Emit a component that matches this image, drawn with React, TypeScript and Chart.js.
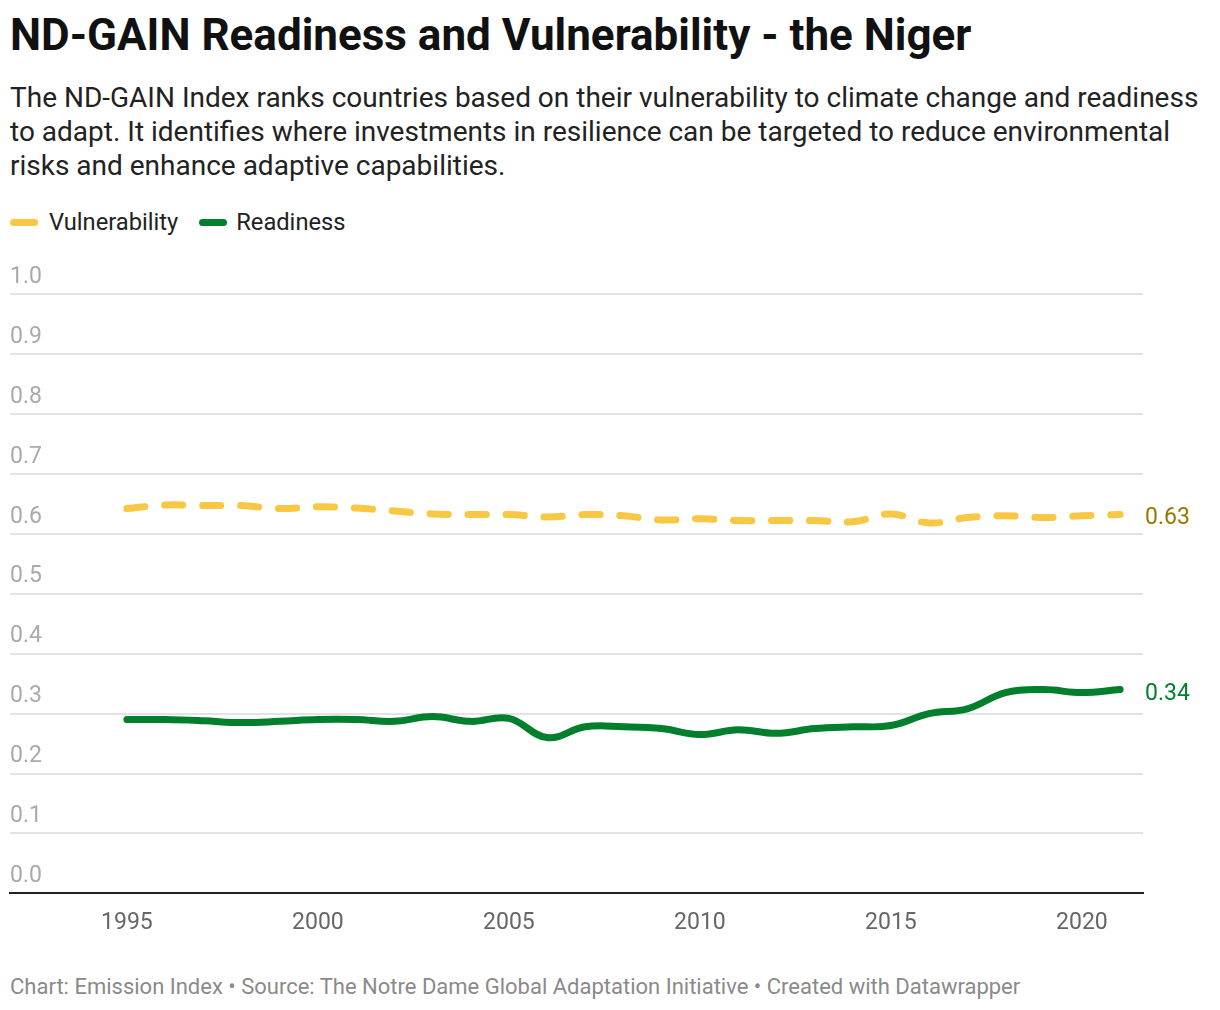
import React, { useEffect, useRef } from "react";
import { Chart, registerables } from "chart.js";

Chart.register(...registerables);

const years = [1995, 1996, 1997, 1998, 1999, 2000, 2001, 2002, 2003, 2004, 2005, 2006, 2007, 2008, 2009, 2010, 2011, 2012, 2013, 2014, 2015, 2016, 2017, 2018, 2019, 2020, 2021];
const vulnerability = [0.642, 0.648, 0.647, 0.647, 0.642, 0.645, 0.643, 0.638, 0.633, 0.632, 0.632, 0.628, 0.632, 0.630, 0.623, 0.625, 0.622, 0.622, 0.622, 0.620, 0.633, 0.618, 0.627, 0.630, 0.627, 0.630, 0.632];
const readiness = [0.290, 0.290, 0.288, 0.285, 0.287, 0.290, 0.290, 0.287, 0.295, 0.287, 0.292, 0.260, 0.278, 0.278, 0.275, 0.265, 0.273, 0.267, 0.275, 0.278, 0.280, 0.300, 0.308, 0.335, 0.340, 0.335, 0.340];
const xTickYears = [1995, 2000, 2005, 2010, 2015, 2020];
const endLabels = ["0.63", "0.34"];

const YELLOW = "#f8c845";
const GREEN = "#017f2d";
const FONT = "Roboto, 'Noto Sans', sans-serif";

const endLabelPlugin = {
  id: "endLabels",
  afterDatasetsDraw(chart: any) {
    const ctx = chart.ctx;
    const colors = ["#967800", GREEN];
    const offsets = [4, 5];
    chart.data.datasets.forEach((ds: any, i: number) => {
      const meta = chart.getDatasetMeta(i);
      const pt = meta.data[meta.data.length - 1];
      if (!pt) return;
      ctx.save();
      ctx.font = `23px ${FONT}`;
      ctx.fillStyle = colors[i];
      ctx.textAlign = "left";
      ctx.textBaseline = "middle";
      ctx.fillText(endLabels[i], chart.chartArea.right + 2, pt.y + offsets[i]);
      ctx.restore();
    });
  },
};

function LineChart() {
  const ref = useRef<HTMLCanvasElement | null>(null);
  useEffect(() => {
    if (!ref.current) return;
    const chart = new Chart(ref.current, {
      type: "line",
      data: {
        labels: years,
        datasets: [
          {
            label: "Vulnerability",
            data: years.map((y, i) => ({ x: y, y: vulnerability[i] })),
            borderColor: YELLOW,
            borderWidth: 7,
            borderDash: [18, 20],
            borderCapStyle: "round",
            pointRadius: 0,
            tension: 0.4,
            fill: false,
          },
          {
            label: "Readiness",
            data: years.map((y, i) => ({ x: y, y: readiness[i] })),
            borderColor: GREEN,
            borderWidth: 7,
            borderCapStyle: "round",
            pointRadius: 0,
            tension: 0.4,
            fill: false,
          },
        ],
      },
      options: {
        animation: false,
        responsive: false,
        maintainAspectRatio: false,
        layout: { padding: { left: 2, top: 34, right: 65, bottom: 0 } },
        plugins: { legend: { display: false }, tooltip: { enabled: false } },
        scales: {
          x: {
            type: "linear",
            min: 1991.94,
            max: 2021.6,
            afterBuildTicks: (scale: any) => {
              scale.ticks = xTickYears.map((v) => ({ value: v }));
            },
            grid: { display: false, drawTicks: false },
            border: { display: true, color: "#222222", width: 2 },
            ticks: {
              autoSkip: false,
              maxRotation: 0,
              padding: 16,
              color: "#666666",
              font: { family: FONT, size: 23 },
              callback: (v: any) => String(v),
            },
          },
          y: {
            min: 0,
            max: 1,
            ticks: {
              stepSize: 0.1,
              mirror: true,
              padding: 0,
              labelOffset: -17,
              color: "#aaaaaa",
              font: { family: FONT, size: 23 },
              callback: (v: any) => Number(v).toFixed(1),
            },
            grid: {
              drawTicks: false,
              color: (c: any) => (c.tick && c.tick.value === 0 ? "rgba(0,0,0,0)" : "#e3e3e3"),
              lineWidth: 2,
            },
            border: { display: false },
          },
        },
      },
      plugins: [endLabelPlugin],
    } as any);
    return () => chart.destroy();
  }, []);
  return <canvas ref={ref} width={1200} height={693} style={{ position: "absolute", left: 0, top: 252, width: 1200, height: 693 }} />;
}

export default function App() {
  const legendItem = (color: string, text: string, gap: number, mr: number) => (
    <span style={{ display: "inline-flex", alignItems: "center", marginRight: mr }}>
      <span style={{ display: "inline-block", width: 28, height: 7, borderRadius: 4, background: color, marginRight: gap }} />
      <span>{text}</span>
    </span>
  );
  return (
    <div style={{ position: "relative", width: 1204, height: 994, fontFamily: FONT }}>
      <div style={{ position: "absolute", left: 2, top: 2.2, fontSize: 44, fontWeight: 700, lineHeight: "51.6px", color: "#111", whiteSpace: "nowrap" }}>
        ND-GAIN Readiness and Vulnerability - the Niger
      </div>
      <div style={{ position: "absolute", left: 2, top: 73.4, fontSize: 28, lineHeight: "34px", color: "#222", whiteSpace: "nowrap" }}>
        The ND-GAIN Index ranks countries based on their vulnerability to climate change and readiness
        <br />
        to adapt. It identifies where investments in resilience can be targeted to reduce environmental
        <br />
        risks and enhance adaptive capabilities.
      </div>
      <div style={{ position: "absolute", left: 2, top: 201.3, fontSize: 23.7, lineHeight: "26px", color: "#222", whiteSpace: "nowrap", display: "flex" }}>
        {legendItem(YELLOW, "Vulnerability", 11, 21)}
        {legendItem(GREEN, "Readiness", 9, 0)}
      </div>
      <LineChart />
      <div style={{ position: "absolute", left: 2, top: 967.3, fontSize: 22, lineHeight: "24px", color: "#8a8a8a", whiteSpace: "nowrap" }}>
        Chart: Emission Index • Source: The Notre Dame Global Adaptation Initiative • Created with Datawrapper
      </div>
    </div>
  );
}
